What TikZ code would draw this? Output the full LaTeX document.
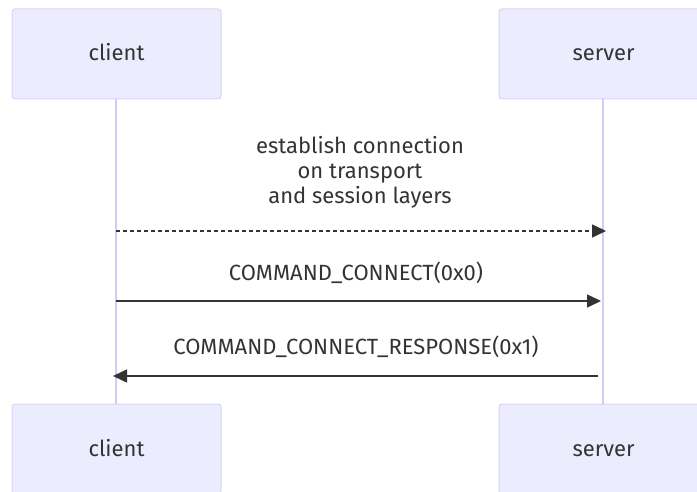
\documentclass[tikz,border=0pt]{standalone}
\usepackage{fontspec}
\setmainfont{Fira Sans}
\usepackage{tikz}
\usetikzlibrary{arrows.meta}

\definecolor{actorfill}{HTML}{ECECFF}
\definecolor{actorline}{HTML}{DCD3F5}
\definecolor{lifeline}{HTML}{D3CCF2}
\definecolor{msgline}{HTML}{333333}

\tikzset{
  actor/.style={draw=actorline, fill=actorfill, line width=1pt, rounded corners=3pt,
    minimum width=209pt, minimum height=90pt, text height=16pt, text depth=2pt,
    font=\fontsize{22}{25}\selectfont, text=msgline},
  msgtext/.style={font=\fontsize{22}{25}\selectfont, text=msgline, align=center},
  msg/.style={draw=msgline, line width=1.5pt, -{Triangle[length=14pt,width=13pt]}}
}

\begin{document}
\begin{tikzpicture}[x=1pt, y=-1pt]
  \useasboundingbox (0,0) rectangle (697,492);

  % Lifelines
  \coordinate (ctop) at (116, 99);
  \coordinate (cbot) at (116, 404);
  \coordinate (stop) at (603, 99);
  \coordinate (sbot) at (603, 404);
  \draw[lifeline, line width=1.5pt] (ctop) -- (cbot);
  \draw[lifeline, line width=1.5pt] (stop) -- (sbot);

  % Actors
  \node[actor] (client) at (116.5, 54) {client};
  \node[actor] (server) at (603.5, 54) {server};
  \node[actor] (clientb) at (116.5, 449) {client};
  \node[actor] (serverb) at (603.5, 449) {server};

  % Messages
  \coordinate (m1a) at (116, 231);
  \coordinate (m1b) at (606, 231);
  \coordinate (m2a) at (116, 301);
  \coordinate (m2b) at (601, 301);
  \coordinate (m3a) at (598, 376);
  \coordinate (m3b) at (113, 376);

  \node[msgtext] (t1) at (360, 172) {establish connection\\on transport\\and session layers};
  \node[msgtext] (t2) at (356, 273) {COMMAND\_CONNECT(0x0)};
  \node[msgtext] (t3) at (356, 347) {COMMAND\_CONNECT\_RESPONSE(0x1)};

  % Drawing
  \draw[msg, dash pattern=on 4pt off 3pt] (m1a) -- (m1b);
  \draw[msg] (m2a) -- (m2b);
  \draw[msg] (m3a) -- (m3b);
\end{tikzpicture}
\end{document}
